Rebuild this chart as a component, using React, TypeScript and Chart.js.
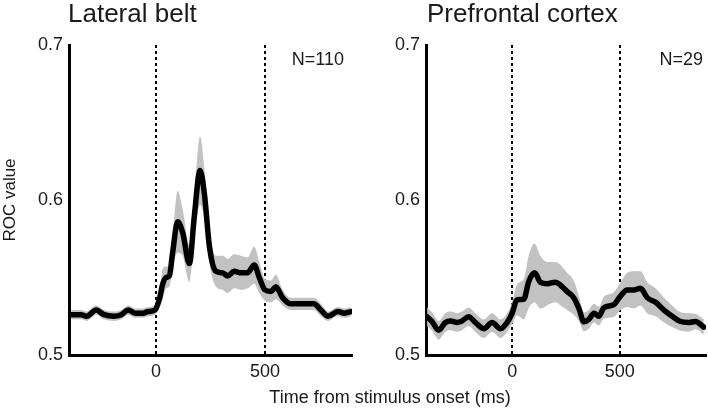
import React, { useEffect, useRef } from 'react';
import { Chart, registerables } from 'chart.js';
Chart.register(...registerables);

// Lateral belt (N=110)
const lbTime = [-390, -344, -320, -275, -239, -193, -160, -128, -97, -60, -37, -5, 15, 31, 46, 61, 76, 99, 122, 153, 176, 202, 222, 245, 275, 306, 329, 359, 390, 420, 451, 474, 500, 528, 550, 581, 619, 665, 725, 757, 789, 835, 865, 896];
const lbMean = [0.526, 0.526, 0.525, 0.529, 0.526, 0.525, 0.526, 0.529, 0.527, 0.527, 0.528, 0.529, 0.536, 0.546, 0.550, 0.551, 0.566, 0.586, 0.579, 0.559, 0.590, 0.619, 0.604, 0.570, 0.554, 0.553, 0.551, 0.554, 0.553, 0.553, 0.558, 0.550, 0.542, 0.541, 0.544, 0.537, 0.533, 0.533, 0.533, 0.529, 0.525, 0.528, 0.527, 0.528];
const lbSem = [0.003, 0.003, 0.003, 0.003, 0.003, 0.003, 0.003, 0.003, 0.003, 0.003, 0.003, 0.003, 0.004, 0.010, 0.007, 0.007, 0.010, 0.020, 0.015, 0.012, 0.015, 0.022, 0.016, 0.011, 0.010, 0.011, 0.011, 0.011, 0.011, 0.010, 0.012, 0.010, 0.007, 0.007, 0.008, 0.005, 0.004, 0.004, 0.004, 0.004, 0.003, 0.003, 0.003, 0.003];

// Prefrontal cortex (N=29)
const pfTime = [-395, -372, -341, -310, -287, -256, -233, -202, -171, -132, -93, -54, -23, 0, 23, 54, 77, 104, 131, 162, 201, 225, 255, 286, 310, 333, 356, 380, 402, 426, 472, 503, 534, 565, 596, 627, 666, 705, 743, 782, 820, 851, 890];
const pfMean = [0.5247, 0.5216, 0.516, 0.521, 0.522, 0.521, 0.522, 0.5247, 0.521, 0.517, 0.521, 0.517, 0.521, 0.527, 0.5357, 0.536, 0.5474, 0.553, 0.547, 0.546, 0.547, 0.545, 0.541, 0.537, 0.530, 0.5214, 0.523, 0.527, 0.525, 0.5305, 0.5325, 0.538, 0.542, 0.542, 0.543, 0.537, 0.534, 0.529, 0.525, 0.5216, 0.521, 0.5216, 0.518];
const pfSem = [0.006, 0.006, 0.006, 0.006, 0.006, 0.006, 0.006, 0.006, 0.006, 0.006, 0.006, 0.006, 0.006, 0.007, 0.010, 0.013, 0.017, 0.019, 0.017, 0.014, 0.013, 0.013, 0.012, 0.011, 0.008, 0.006, 0.006, 0.006, 0.006, 0.007, 0.008, 0.009, 0.011, 0.012, 0.011, 0.010, 0.009, 0.008, 0.007, 0.006, 0.006, 0.005, 0.005];

const xTicks = [0, 500];
const yTicks = [0.5, 0.6, 0.7];
const markerTimes = [0, 500];
const xMin = -400;
const xMax = 900;
const yMin = 0.5;
const yMax = 0.7;

const FONT = "'Liberation Sans', Arial, Helvetica, sans-serif";
const TEXT = '#1a1a1a';

const markerPlugin = {
  id: 'markers',
  beforeDatasetsDraw(chart: any) {
    const { ctx, chartArea, scales } = chart;
    const x = scales.x;
    ctx.save();
    ctx.setLineDash([3, 3]);
    ctx.lineWidth = 2;
    ctx.strokeStyle = '#000';
    markerTimes.forEach((t) => {
      const px = Math.round(x.getPixelForValue(t));
      ctx.beginPath();
      ctx.moveTo(px, chartArea.top);
      ctx.lineTo(px, chartArea.bottom);
      ctx.stroke();
    });
    ctx.restore();
  },
};

function Panel(props: {
  time: number[];
  mean: number[];
  sem: number[];
  left: number;
  width: number;
  yAxisWidth: number;
  padRight: number;
  showYTitle: boolean;
}) {
  const ref = useRef<HTMLCanvasElement | null>(null);
  useEffect(() => {
    const { time, mean, sem } = props;
    const pts = (arr: number[]) => time.map((t, i) => ({ x: t, y: arr[i] }));
    const upper = mean.map((m, i) => m + sem[i]);
    const lower = mean.map((m, i) => m - sem[i]);
    const tickFont = { family: FONT, size: 18 };
    const chart = new Chart(ref.current as HTMLCanvasElement, {
      type: 'line',
      data: {
        datasets: [
          {
            data: pts(mean),
            borderColor: '#000',
            borderWidth: 5.5,
            pointRadius: 0,
            fill: false,
            cubicInterpolationMode: 'monotone',
            borderCapStyle: 'round',
            borderJoinStyle: 'round',
          },
          {
            data: pts(upper),
            borderWidth: 0,
            borderColor: 'rgba(0,0,0,0)',
            pointRadius: 0,
            fill: false,
            cubicInterpolationMode: 'monotone',
          },
          {
            data: pts(lower),
            borderWidth: 0,
            borderColor: 'rgba(0,0,0,0)',
            pointRadius: 0,
            fill: '-1',
            backgroundColor: '#c2c2c2',
            cubicInterpolationMode: 'monotone',
          },
        ],
      },
      options: {
        animation: false,
        responsive: false,
        maintainAspectRatio: false,
        layout: { padding: { top: 45, right: props.padRight, left: 0, bottom: 0 } },
        plugins: { legend: { display: false }, tooltip: { enabled: false } },
        scales: {
          x: {
            type: 'linear',
            min: xMin,
            max: xMax,
            grid: { display: false, drawTicks: false },
            border: { display: true, color: '#000', width: 3 },
            ticks: { padding: 6, font: tickFont, color: TEXT, maxRotation: 0 },
            afterBuildTicks: (s: any) => {
              s.ticks = xTicks.map((v) => ({ value: v }));
            },
            afterFit: (s: any) => {
              s.height = 53;
            },
          },
          y: {
            type: 'linear',
            min: yMin,
            max: yMax,
            grid: { display: false, drawTicks: false },
            border: { display: true, color: '#000', width: 3 },
            ticks: {
              padding: 6,
              font: tickFont,
              color: TEXT,
              callback: (v: any) => Number(v).toFixed(1),
            },
            afterBuildTicks: (s: any) => {
              s.ticks = yTicks.map((v) => ({ value: v }));
            },
            afterFit: (s: any) => {
              s.width = props.yAxisWidth;
            },
            title: {
              display: props.showYTitle,
              text: 'ROC value',
              font: { family: FONT, size: 17 },
              color: TEXT,
              padding: 0,
            },
          },
        },
      },
      plugins: [markerPlugin],
    } as any);
    return () => chart.destroy();
  }, []);
  return (
    <canvas
      ref={ref}
      width={props.width}
      height={408}
      style={{ position: 'absolute', left: props.left, top: 0, width: props.width, height: 408 }}
    />
  );
}

export default function App() {
  const titleStyle: React.CSSProperties = {
    position: 'absolute',
    top: 0,
    fontSize: 26,
    lineHeight: '26px',
    whiteSpace: 'nowrap',
  };
  const nStyle: React.CSSProperties = {
    position: 'absolute',
    top: 50,
    fontSize: 18,
    lineHeight: '18px',
    whiteSpace: 'nowrap',
    textAlign: 'right',
  };
  return (
    <div
      style={{
        position: 'fixed',
        left: 0,
        top: 0,
        width: 708,
        height: 408,
        background: '#fff',
        fontFamily: FONT,
        color: TEXT,
        overflow: 'hidden',
      }}
    >
      <Panel time={lbTime} mean={lbMean} sem={lbSem} left={0} width={360} yAxisWidth={69} padRight={8} showYTitle={true} />
      <Panel time={pfTime} mean={pfMean} sem={pfSem} left={360} width={348} yAxisWidth={66} padRight={2} showYTitle={false} />
      <div style={{ ...titleStyle, left: 68 }}>Lateral belt</div>
      <div style={{ ...titleStyle, left: 427 }}>Prefrontal cortex</div>
      <div style={{ ...nStyle, right: 708 - 344 }}>N=110</div>
      <div style={{ ...nStyle, right: 5 }}>N=29</div>
      <div
        style={{
          position: 'absolute',
          top: 388,
          left: 0,
          width: 780,
          textAlign: 'center',
          fontSize: 18,
          lineHeight: '18px',
          whiteSpace: 'nowrap',
        }}
      >
        Time from stimulus onset (ms)
      </div>
    </div>
  );
}
